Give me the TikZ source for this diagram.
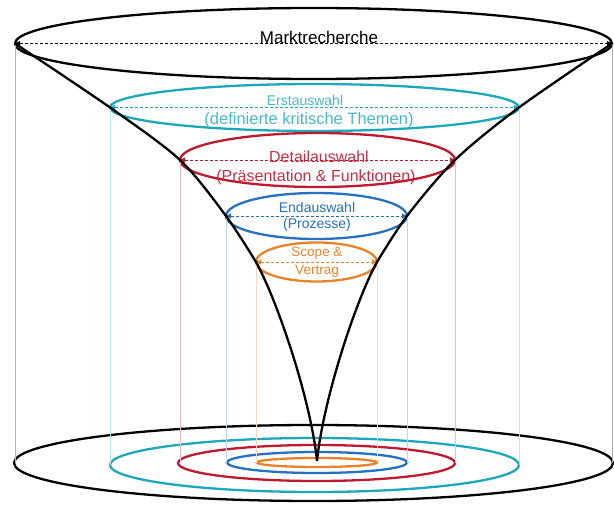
\documentclass[tikz,border=0pt]{standalone}
\usepackage{fontspec}
\setmainfont{Liberation Sans}
\usetikzlibrary{shapes.geometric}
\usetikzlibrary{arrows.meta}

\definecolor{tuerkis}{RGB}{28,168,186}
\definecolor{rot}{RGB}{192,24,45}
\definecolor{blau}{RGB}{38,112,192}
\definecolor{orangeton}{RGB}{232,130,42}

\tikzset{
    ring/.style={ellipse, draw=#1, line width=2.3pt, inner sep=0pt, outer sep=0pt},
    lot/.style={draw=#1!30, line width=0.7pt},
    mass/.style={draw=#1, dash pattern=on 3pt off 2pt, line width=1pt,
        {Triangle[length=5pt,width=5pt]}-{Triangle[length=5pt,width=5pt]}},
    funnel/.style={draw=black, line width=2.3pt},
    lbl/.style={font=\fontsize{#1}{#1}\selectfont, inner sep=0pt},
}

\begin{document}
\begin{tikzpicture}[x=1pt, y=-1pt]
    \useasboundingbox (0,0) rectangle (614,506);

    % oben
    \node[ring=black,     minimum width=597, minimum height=71] (mkt) at (313.5,43.5) {};
    \node[ring=tuerkis,   minimum width=409, minimum height=47] (ers) at (314.5,107.5) {};
    \node[ring=rot,       minimum width=275, minimum height=54] (det) at (317.5,160) {};
    \node[ring=blau,      minimum width=181, minimum height=46] (end) at (316.5,216) {};
    \node[ring=orangeton, minimum width=121, minimum height=39] (scp) at (316.5,262) {};

    % unten
    \node[ring=black,     minimum width=599, minimum height=76] (mkt-u) at (313.5,463) {};
    \node[ring=tuerkis,   minimum width=409, minimum height=54] (ers-u) at (314.5,465) {};
    \node[ring=rot,       minimum width=277, minimum height=36] (det-u) at (316.5,463) {};
    \node[ring=blau,      minimum width=180, minimum height=21] (end-u) at (317,462.5) {};
    \node[ring=orangeton, minimum width=120, minimum height=9]  (scp-u) at (317,462.5) {};
    \coordinate (tip) at (317,461);

    % Lote und Masslinien
    \foreach \n/\c in {mkt/black, ers/tuerkis, det/rot, end/blau, scp/orangeton} {
        \draw[lot=\c] (\n.west) -- (\n.west |- \n-u.west);
        \draw[lot=\c] (\n.east) -- (\n.east |- \n-u.east);
        \draw[mass=\c] (\n.west) -- (\n.east);
    }

    % Trichter
    \draw[funnel] plot[smooth] coordinates {(mkt.west) (ers.west) (det.west) (end.west) (scp.west)}
        .. controls +(22,40) and +(-6,-60) .. (tip);
    \draw[funnel] plot[smooth] coordinates {(mkt.east) (ers.east) (det.east) (end.east) (scp.east)}
        .. controls +(-22,40) and +(6,-60) .. (tip);

    % Beschriftung
    \node[lbl=17] (t-mkt) at (319,37) {Marktrecherche};
    \node[lbl=14, text=tuerkis!80] (t-ers) at (305,100) {Erstauswahl};
    \node[lbl=16.5, text=tuerkis!80] (t-ers2) at (309,120) {(definierte kritische Themen)};
    \node[lbl=16, text=rot!90] (t-det) at (319,157) {Detailauswahl};
    \node[lbl=16, text=rot!90] (t-det2) at (316,177) {(Präsentation \& Funktionen)};
    \node[lbl=14, text=blau] (t-end) at (317,207) {Endauswahl};
    \node[lbl=14, text=blau] (t-end2) at (317,225) {(Prozesse)};
    \node[lbl=13.5, text=orangeton] (t-scp) at (317,253) {Scope \&};
    \node[lbl=13.5, text=orangeton] (t-scp2) at (317,271) {Vertrag};
\end{tikzpicture}
\end{document}
